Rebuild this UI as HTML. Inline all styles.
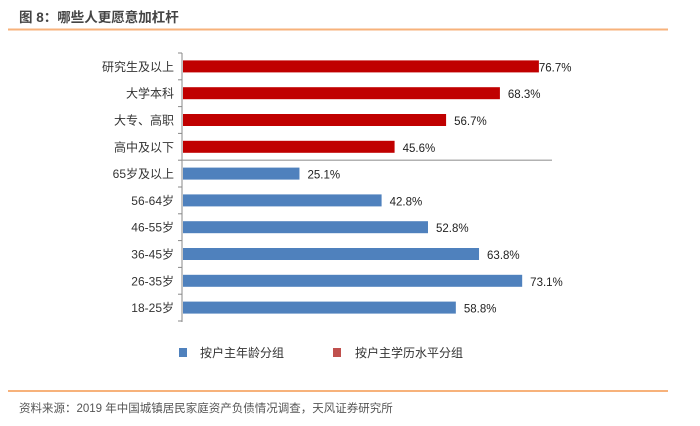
<!DOCTYPE html>
<html><head><meta charset="utf-8"><style>
body{margin:0;width:700px;height:421px;background:#fff;overflow:hidden;font-family:"Liberation Sans","Noto Sans CJK SC",sans-serif;}
</style></head><body>
<svg width="700" height="421" xmlns="http://www.w3.org/2000/svg">
<text x="19" y="22" font-size="13.5" font-weight="bold" fill="#444" font-family="Liberation Sans,Noto Sans CJK SC,sans-serif">图 8：哪些人更愿意加杠杆</text>
<line x1="8" y1="29.5" x2="668" y2="29.5" stroke="#f7b27b" stroke-width="2"/>
<g id="plot"></g>
<line x1="8" y1="391" x2="668" y2="391" stroke="#f7b27b" stroke-width="2"/>
<text x="19" y="412" font-size="11.5" fill="#555" font-family="Liberation Sans,Noto Sans CJK SC,sans-serif">资料来源：2019 年中国城镇居民家庭资产负债情况调查，天风证券研究所</text>
<rect x="179" y="348" width="8" height="9" fill="#4f81bd"/>
<text x="200" y="357" font-size="12" fill="#333" font-family="Liberation Sans,Noto Sans CJK SC,sans-serif">按户主年龄分组</text>
<rect x="333" y="348" width="8" height="9" fill="#c0504d"/>
<text x="355" y="357" font-size="12" fill="#333" font-family="Liberation Sans,Noto Sans CJK SC,sans-serif">按户主学历水平分组</text>
</svg>
<script>
const categories=["研究生及以上","大学本科","大专、高职","高中及以下","65岁及以上","56-64岁","46-55岁","36-45岁","26-35岁","18-25岁"];
const values=[76.7,68.3,56.7,45.6,25.1,42.8,52.8,63.8,73.1,58.8];
const groups=["edu","edu","edu","edu","age","age","age","age","age","age"];
const NS="http://www.w3.org/2000/svg";
const g=document.getElementById("plot");
const x0=183,pxPer=4.64,yTop=53,step=26.8,bh=12;
const xs=v=>x0+v*pxPer;
const yc=i=>yTop+step*(i+0.5);
function mk(t,a){const e=document.createElementNS(NS,t);for(const k in a)e.setAttribute(k,a[k]);g.appendChild(e);return e;}
let ax=mk("line",{x1:182,y1:yTop,x2:182,y2:yTop+step*categories.length+1,stroke:"#888"});


for(let i=0;i<=categories.length;i++){let t=mk("line",{x1:178,x2:182,y1:yTop+step*i,y2:yTop+step*i,stroke:"#888"});

}
let sep=mk("line",{x1:182,x2:552,y1:yTop+step*4,y2:yTop+step*4,stroke:"#999","stroke-width":1.2});


categories.forEach((c,i)=>{
 const y=yc(i);
 let r=mk("rect",{x:x0,y:y-bh/2,width:xs(values[i])-x0,height:bh,fill:groups[i]=="edu"?"#c00000":"#4f81bd"});
 
 
 let l=mk("text",{x:174,y:y+4.5,"text-anchor":"end","font-size":12,fill:"#333"});l.textContent=c;
 
 
 let v=mk("text",{x:xs(values[i])+(i==0?0:8),y:y+5,"font-size":11.5,fill:"#222"});v.textContent=values[i].toFixed(1)+"%";
 
 
});
</script>
</body></html>
